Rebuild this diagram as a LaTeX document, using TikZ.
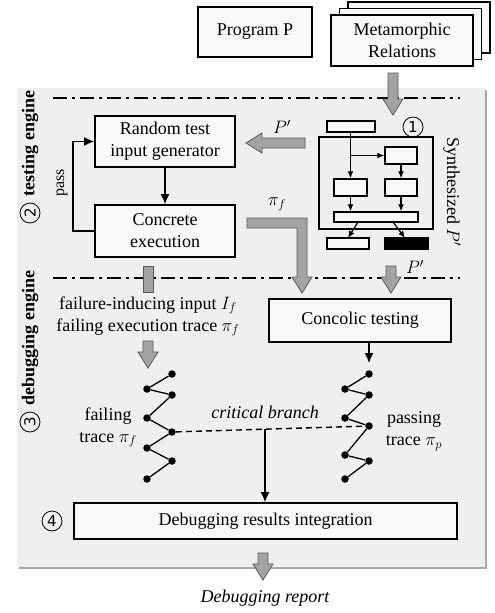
\RequirePackage{fix-cm}
\documentclass[tikz,border=0pt]{standalone}
\usepackage{fontspec}
\setmainfont{Liberation Serif}
\newfontfamily\symf{DejaVu Sans}
\usetikzlibrary{arrows.meta,calc}
\definecolor{panel}{HTML}{EFEFF1}
\definecolor{panelshadow}{HTML}{A8A8A8}
\definecolor{boxfill}{HTML}{F8F8F8}
\definecolor{garrowfill}{HTML}{A3A3A3}
\definecolor{garrowline}{HTML}{5A5A5A}
\newcommand\fsz{\fontsize{18}{22}\selectfont}
\newcommand\gdown[3]{\filldraw[garrow] (#1-5,#2) -- (#1+5,#2) -- (#1+5,#3-16) -- (#1+10,#3-16) -- (#1,#3) -- (#1-10,#3-16) -- (#1-5,#3-16) -- cycle;}
\begin{document}
\begin{tikzpicture}[x=1pt,y=-1pt,
  every node/.style={font=\fsz},
  bx/.style={draw, line width=1.8pt, fill=boxfill, align=center, inner sep=0pt},
  sbx/.style={draw, line width=1.5pt, fill=boxfill, inner sep=0pt},
  garrow/.style={fill=garrowfill, draw=garrowline, line width=0.8pt},
  arr/.style={line width=1.3pt, -{Latex[length=10pt,width=9pt]}},
  sarr/.style={line width=1.2pt, -{Latex[length=7pt,width=6pt]}},
  dot/.style={circle, fill=black, minimum size=7.5pt, inner sep=0pt},
  zz/.style={line width=1.3pt},
  ddline/.style={line width=1.5pt, dash pattern=on 14pt off 5pt on 3pt off 5pt},
  vlab/.style={rotate=90, anchor=west, font=\fsz\bfseries},
  circnum/.style={circle, draw, line width=0.8pt, minimum size=20pt, inner sep=0pt, font=\symf\fontsize{15}{17}\selectfont}
]
\useasboundingbox (0,0) rectangle (495,613);
% panel
\fill[panelshadow] (19,90) rectangle (487,569);
\fill[panel] (17,88) rectangle (485,567);

% top boxes
\node[bx, minimum width=142pt, minimum height=51pt] (mr3) at (419,27.5) {};
\node[bx, minimum width=142pt, minimum height=51pt] (mr2) at (410.5,34) {};
\node[bx, minimum width=142pt, minimum height=51pt] (mr) at (402,40.5) {Metamorphic\\Relations};
\node[bx, minimum width=114pt, minimum height=50pt] (prog) at (255,32) {Program P};

% dash-dot lines
\coordinate (l1a) at (53,98); \coordinate (l1b) at (460,98);
\coordinate (l2a) at (53,278); \coordinate (l2b) at (460,278);
\draw[ddline] (l1a) -- (l1b);
\draw[ddline] (l2a) -- (l2b);

% side labels
\node[circnum, rotate=90] (c2) at (30,213) {2};
\node[vlab] (testlab) at (30,200) {testing engine};
\node[circnum, rotate=90] (c3) at (30,422) {3};
\node[vlab] (dbglab) at (30,409) {debugging engine};

% testing engine
\node[bx, minimum width=140pt, minimum height=51pt] (rtig) at (165,141.5) {Random test\\input generator};
\node[bx, minimum width=140pt, minimum height=52pt] (conc) at (165,231) {Concrete\\execution};
\draw[arr] (rtig) -- (conc);
\draw[arr] (conc.west) -- ++(-21,0) |- (rtig.west);
\node[rotate=90, font=\fontsize{16}{19}\selectfont] (pass) at (62,183) {pass};

% synthesized P'
\node[sbx, minimum width=48pt, minimum height=11pt] (s0) at (351,126.5) {};
\node[draw, line width=1.8pt, minimum width=114pt, minimum height=92pt, inner sep=0pt] (sout) at (376,183) {};
\node[sbx, minimum width=32pt, minimum height=17pt] (s1) at (401,155.5) {};
\node[sbx, minimum width=33pt, minimum height=17pt] (s2) at (350.5,187.5) {};
\node[sbx, minimum width=32pt, minimum height=17pt] (s3) at (401,187.5) {};
\node[sbx, minimum width=84pt, minimum height=10pt] (s4) at (376,217) {};
\node[sbx, minimum width=42pt, minimum height=11pt] (s5) at (348,243.5) {};
\node[draw, fill=black, line width=1.5pt, minimum width=43pt, minimum height=11pt, inner sep=0pt] (s6) at (406.5,243.5) {};
\draw[sarr] (s0.south -| s2.north) -- (s2.north);
\coordinate (br) at (350,155.5);
\draw[sarr] (br) -- (s1.west);
\draw[sarr] (s1) -- (s3);
\draw[sarr] (s2) -- (s2 |- s4.north);
\draw[sarr] (s3) -- (s3 |- s4.north);
\coordinate (s4a) at (358,222); \coordinate (s4b) at (393,222);
\draw[sarr] (s4a) -- (348,238);
\draw[sarr] (s4b) -- (405,238);
\node[circnum] (c1) at (413,127) {1};
\node[rotate=-90] (synlab) at (452,192) {Synthesized $P'$};

% gray arrows
\gdown{393}{73}{115}
\filldraw[garrow] (305,138) -- (262,138) -- (262,133) -- (246,143) -- (262,153) -- (262,148) -- (305,148) -- cycle;
\node (plab1) at (282,127) {$P'$};
\filldraw[garrow] (247,218) -- (307,218) -- (307,277) -- (312,277) -- (302,293) -- (292,277) -- (297,277) -- (297,228) -- (247,228) -- cycle;
\node (pilab) at (277,204) {$\pi_f$};
\gdown{391}{266}{293}
\node (plab2) at (415,267) {$P'$};
\filldraw[garrow] (143,266) rectangle (153,292);
\gdown{148}{341}{368}
\gdown{263}{553}{580}

% debugging engine
\node[align=center] (fin) at (148,316.5) {failure-inducing input $I_f$\\failing execution trace $\pi_f$};
\node[bx, minimum width=182pt, minimum height=43pt] (conco) at (360,320.5) {Concolic testing};
\coordinate (pt) at (369,363);
\draw[arr] (conco.south -| pt) -- (pt);

% failing trace
\node[dot] (f1) at (172,374) {};
\node[dot] (f2) at (147,389) {};
\node[dot] (f3) at (172,395) {};
\node[dot] (f4) at (147,418) {};
\node[dot] (f5) at (172,432) {};
\node[dot] (f6) at (147,448) {};
\node[dot] (f7) at (172,461) {};
\node[dot] (f8) at (147,479) {};
\draw[zz] (f1)--(f2)--(f3)--(f4)--(f5)--(f6)--(f7)--(f8);
% passing trace
\node[dot] (p1) at (369,374) {};
\node[dot] (p2) at (345,389) {};
\node[dot] (p3) at (369,395) {};
\node[dot] (p4) at (345,418) {};
\node[dot] (p5) at (369,426) {};
\node[dot] (p6) at (345,455) {};
\node[dot] (p7) at (369,461) {};
\node[dot] (p8) at (345,479) {};
\draw[zz] (p1)--(p2)--(p3)--(p4)--(p5)--(p6)--(p7)--(p8);

\draw[line width=1.4pt, dash pattern=on 6pt off 4pt] (f5) -- (p5);
\node (flab) at (108,427.5) [align=center] {failing\\trace $\pi_f$};
\node (plab) at (414,431) [align=center] {passing\\trace $\pi_p$};
\node[font=\fsz\itshape] (cbl) at (265,412) {critical branch};

\node[bx, minimum width=383pt, minimum height=36pt] (dbg) at (265.5,521) {Debugging results integration};
\coordinate (cb) at ($(f5)!0.472!(p5)$);
\draw[arr] (cb) -- (cb |- dbg.north);
\node[circnum] (c4) at (52,521) {4};

\node[font=\fsz\itshape] (rep) at (265,598) {Debugging report};
\end{tikzpicture}
\end{document}
